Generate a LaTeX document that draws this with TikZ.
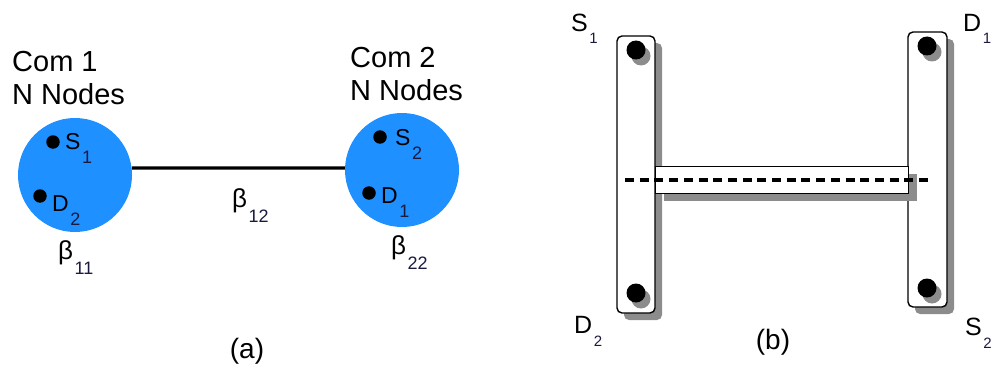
\documentclass[tikz,border=0pt]{standalone}
\usepackage{fontspec}
\setmainfont{Liberation Sans}
\definecolor{comblue}{HTML}{1E90FF}
\definecolor{subc}{HTML}{1A1A40}
\definecolor{shad}{HTML}{8C8C8C}
\newcommand{\subl}[5]{{\fontsize{#3}{#3}\selectfont #1}\kern1.5pt\raisebox{-#5pt}{\color{subc}\fontsize{#4}{#4}\selectfont #2}}
\begin{document}
\begin{tikzpicture}[x=1pt,y=-1pt,
  comm/.style={circle,fill=comblue,minimum size=114pt,inner sep=0pt},
  dotA/.style={circle,fill=black,minimum size=13.5pt,inner sep=0pt},
  txt/.style={anchor=base west,inner sep=0pt,font=\fontsize{29}{33}\selectfont},
  lab/.style={anchor=base west,inner sep=0pt},
  bar/.style={draw=black,fill=white,line width=1.4pt,rounded corners=5pt},
  hbar/.style={draw=black,fill=white,line width=1pt},
  shadow/.style={fill=shad,rounded corners=5pt},
  bdot/.style={circle,fill=black,minimum size=19pt,inner sep=0pt},
  bdotsh/.style={circle,fill=shad,minimum size=19pt,inner sep=0pt}]
\useasboundingbox (0,0) rectangle (994,369);
% ---------- (a) ----------
\node[comm] (c1) at (75,175) {};
\node[comm] (c2) at (402,170) {};
\draw[line width=3.2pt] (c1.7) -- (c2.178);
\node[txt] (com1) at (12,72) {Com 1};
\node[txt] (nn1) at (12,105) {N Nodes};
\node[txt] (com2) at (350,67) {Com 2};
\node[txt] (nn2) at (350,100) {N Nodes};
\node[dotA] (ds1) at (53,142) {};
\node[lab] (ls1) at (65,149) {\subl{S}{1}{23}{18}{14}};
\node[dotA] (dd2) at (40,196) {};
\node[lab] (ld2) at (52,211) {\subl{D}{2}{23}{18}{14}};
\node[dotA] (ds2) at (380,137) {};
\node[lab] (ls2) at (395,145) {\subl{S}{2}{23}{18}{14}};
\node[dotA] (dd1) at (369,193) {};
\node[lab] (ld1) at (381,203) {\subl{D}{1}{23}{18}{14}};
\node[lab] (b12) at (232,207) {\subl{β}{12}{26}{18}{15}};
\node[lab] (b11) at (58,259) {\subl{β}{11}{26}{18}{15}};
\node[lab] (b22) at (391,254) {\subl{β}{22}{26}{18}{15}};
\node[anchor=base,inner sep=0pt,font=\fontsize{28}{28}\selectfont] (capa) at (247,358) {(a)};
% ---------- (b) ----------
\fill[shadow] (624,43) rectangle (662,320);
\draw[bar] (617,36) rectangle (655,313);
\fill[shadow] (915,39) rectangle (954,314);
\draw[bar] (908,32) rectangle (947,307);
\fill[shad] (664,174) rectangle (917,201);
\draw[hbar] (655,166) rectangle (908,193);
\node[bdotsh] at (641,56) {};
\node[bdot] (p1) at (636,50) {};
\node[bdotsh] at (641,299) {};
\node[bdot] (p2) at (636,293) {};
\node[bdotsh] at (932,52) {};
\node[bdot] (p3) at (927,46) {};
\node[bdotsh] at (932,294) {};
\node[bdot] (p4) at (927,288) {};
\coordinate (dl) at (625,180);
\coordinate (dr) at (933,180);
\draw[line width=4.5pt,dash pattern=on 9pt off 5.7pt] (dl) -- (dr);
\node[lab] (bs1) at (571,32) {\subl{S}{1}{25}{15}{12}};
\node[lab] (bd1) at (963,32) {\subl{D}{1}{25}{15}{12}};
\node[lab] (bd2) at (574,333) {\subl{D}{2}{25}{15}{13}};
\node[lab] (bs2) at (965,335) {\subl{S}{2}{25}{15}{13}};
\node[anchor=base,inner sep=0pt,font=\fontsize{28}{28}\selectfont] (capb) at (773,349) {(b)};
\end{tikzpicture}
\end{document}
